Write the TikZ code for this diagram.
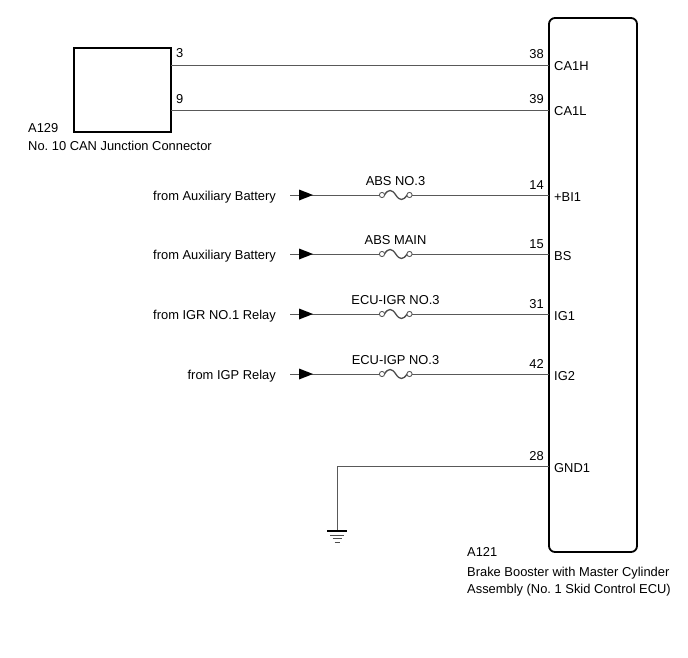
\documentclass[tikz,border=0pt]{standalone}
\usepackage{fontspec}
\setmainfont{Liberation Sans}
\frenchspacing
\begin{document}
\begin{tikzpicture}[x=1pt,y=-1pt,
  wire/.style={draw=black!65, line width=0.9pt},
  boxline/.style={draw=black, line width=1.8pt},
  lbl/.style={font=\fontsize{12.9}{14}\selectfont, inner sep=0pt},
  pics/feedarrow/.style={code={\fill[black] (0,-5.5) -- (14,0) -- (0,5.5) -- cycle;}},
  pics/fusesym/.style={code={
    \draw[black!70, line width=1.3pt] (2.5,0) .. controls (6,-6) and (10,-6) .. (13.75,0)
       .. controls (17.5,6) and (21.5,6) .. (25,0);
    \draw[black!65, line width=0.9pt, fill=white] (0,0) circle (2.6) (27.5,0) circle (2.6);
  }}
]
\useasboundingbox (0,0) rectangle (688,658);

% ECU box
\node[boxline, rounded corners=6pt, minimum width=88pt, minimum height=534pt,
      anchor=north west, outer sep=0pt, inner sep=0pt] (ecu) at (549,18) {};
% A129 box
\node[boxline, minimum width=97pt, minimum height=84pt,
      anchor=north west, outer sep=0pt, inner sep=0pt] (jc) at (74,48) {};

% labels of connectors
\node[lbl, anchor=base west] (a129) at (28,133) {A129};
\node[lbl, anchor=base west] (jcname) at (28,150) {No. 10 CAN Junction Connector};
\node[lbl, anchor=base west] (a121) at (467,556) {A121};
\node[lbl, anchor=base west] (ecuname1) at (467,576) {Brake Booster with Master Cylinder};
\node[lbl, anchor=base west] (ecuname2) at (467,593) {Assembly (No. 1 Skid Control ECU)};

% pin coordinates
\coordinate (j3) at (171,65);
\coordinate (j9) at (171,110);
\coordinate (e38) at (549,65);
\coordinate (e39) at (549,110);
\coordinate (e14) at (549,195);
\coordinate (e15) at (549,254);
\coordinate (e31) at (549,314);
\coordinate (e42) at (549,374);
\coordinate (e28) at (549,466);

% CAN lines
\draw[wire] (j3) -- (e38);
\draw[wire] (j9) -- (e39);
\node[lbl, anchor=base west] (n3) at (176,58) {3};
\node[lbl, anchor=base west] (n9) at (176,104) {9};

% pin numbers and names
\foreach \c/\num/\nm in {e38/38/CA1H, e39/39/CA1L, e14/14/+BI1, e15/15/BS, e31/31/IG1, e42/42/IG2, e28/28/GND1}{
  \node[lbl, anchor=base east] (num\num) at ([shift={(-5,-6)}]\c) {\num};
  \node[lbl, anchor=base west] (nm\num) at ([shift={(5,6)}]\c) {\nm};
}

% power feeds
\foreach \yy/\src/\fuse/\pin in {195/from Auxiliary Battery/ABS NO.3/e14,
                                  254/from Auxiliary Battery/ABS MAIN/e15,
                                  314/from IGR NO.1 Relay/ECU-IGR NO.3/e31,
                                  374/from IGP Relay/ECU-IGP NO.3/e42}{
  \coordinate (s\yy) at (290,\yy);
  \coordinate (fa\yy) at (379.4,\yy);
  \coordinate (fb\yy) at (411.6,\yy);
  \node[lbl, anchor=base east] (src\yy) at (276,\yy+5) {\src};
  \draw[wire] (s\yy) -- (fa\yy);
  \draw[wire] (fb\yy) -- (\pin);
  \pic at (299,\yy) {feedarrow};
  \pic at (382,\yy) {fusesym};
  \node[lbl, anchor=base] (fl\yy) at (395.5,\yy-10) {\fuse};
}

% ground
\coordinate (g) at (337,531);
\draw[wire] (e28) -- (337,466) -- (g);
\draw[black, line width=1.3pt] (327,531) -- (347,531);
\draw[black!70, line width=0.9pt] (330,535) -- (344,535);
\draw[black!70, line width=0.9pt] (332.5,538.5) -- (341.5,538.5);
\draw[black!70, line width=0.9pt] (334.5,542) -- (339.5,542);
\end{tikzpicture}
\end{document}
